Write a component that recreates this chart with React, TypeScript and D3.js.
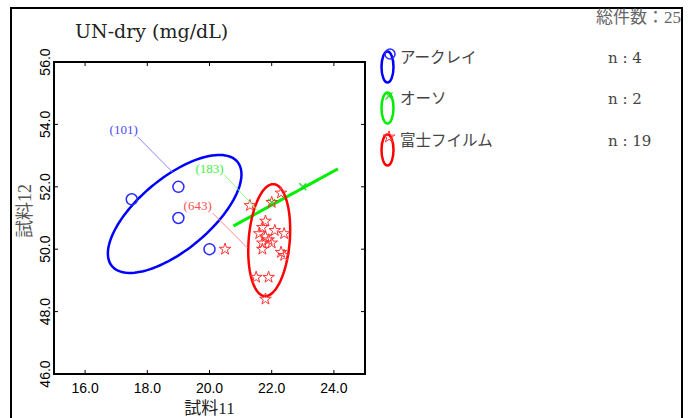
import React from 'react';
import * as d3 from 'd3';

// ---- data ----
const groupNames = ['アークレイ', 'オーソ', '富士フイルム'];
const groupCounts = [4, 2, 19];
const totalCount = 25;
const groupColors = ['#0000ff', '#00ee00', '#ff0000'];
const markerColors = ['#2a2aff', '#22dd22', '#ff3333'];

const arkrayX = [17.5, 19.0, 19.0, 20.0];
const arkrayY = [51.6, 52.0, 51.0, 50.0];
const orthoX = [22.0, 23.0];
const orthoY = [51.5, 52.0];
const fujiX = [21.3, 22.0, 22.3, 21.8, 21.7, 22.1, 22.4, 21.6, 21.8, 21.9, 21.7, 22.0, 21.7, 22.3, 22.4, 21.5, 21.9, 21.8, 20.5];
const fujiY = [51.4, 51.5, 51.8, 50.9, 50.7, 50.6, 50.5, 50.5, 50.4, 50.3, 50.2, 50.2, 50.0, 49.9, 49.8, 49.1, 49.1, 48.4, 50.0];

// ellipses (data units): center, semi-axes, angle in degrees
const ellCx = [18.88, 22.45, 21.92];
const ellCy = [51.13, 51.66, 50.29];
const ellA = [2.62, 1.913, 1.8];
const ellB = [1.15, 0.0, 0.66];
const ellAngle = [39.6, 28.6, 85.3];

// annotation labels
const labelText = ['(101)', '(183)', '(643)'];
const labelX = [17.24, 20.0, 19.62];
const labelY = [53.69, 52.44, 51.26];
const leaderX1 = [17.69, 20.48, 20.1];
const leaderY1 = [53.6, 52.38, 51.16];
const leaderX2 = [18.81, 21.57, 21.22];
const leaderY2 = [52.47, 51.22, 50.04];
const labelColors = ['#4a4aff', '#44ee44', '#ff5050'];
const leaderColors = ['#8888ff', '#88ff88', '#ff8888'];

const xTicks = [16, 18, 20, 22, 24];
const yTicks = [46, 48, 50, 52, 54, 56];
const title = 'UN-dry (mg/dL)';
const xTitle = '試料11';
const yTitle = '試料12';

// ---- layout ----
const W = 690;
const H = 418;
const PL = 54, PR = 365, PT = 62, PB = 374;

const x = d3.scaleLinear().domain([15, 25]).range([PL, PR]);
const y = d3.scaleLinear().domain([46, 56]).range([PB, PT]);

const serif = '"DejaVu Serif", "Liberation Serif", "Noto Sans CJK JP", serif';
const jp = '"Liberation Serif", "Noto Sans CJK JP", serif';
const sans = '"Liberation Sans", Arial, sans-serif';

function ellipsePath(i: number) {
  const th = (ellAngle[i] * Math.PI) / 180;
  const pts = d3.range(0, 361, 3).map((deg) => {
    const p = (deg * Math.PI) / 180;
    const dx = ellA[i] * Math.cos(p);
    const dy = ellB[i] * Math.sin(p);
    const ex = ellCx[i] + dx * Math.cos(th) - dy * Math.sin(th);
    const ey = ellCy[i] + dx * Math.sin(th) + dy * Math.cos(th);
    return [x(ex), y(ey)] as [number, number];
  });
  return d3.line()(pts) || '';
}

const starPath = d3.symbol().type(d3.symbolStar).size(42)() || '';
const crossPath = 'M-3.5,-3.5L3.5,3.5M-3.5,3.5L3.5,-3.5';

export default function App() {
  const legendY = [67, 108, 150];
  return (
    <svg width={W} height={H} style={{ position: 'absolute', left: 0, top: 0, background: '#fff' }}>
      <rect x={0} y={0} width={W} height={H} fill="#fff" />
      {/* outer frame */}
      <rect x={11} y={8} width={671} height={440} fill="none" stroke="#000" strokeWidth={2} />
      <text x={75} y={38} fontFamily={serif} fontSize={19} fill="#222">{title}</text>
      <text x={681} y={23} textAnchor="end" fontFamily={jp} fontSize={17} fill="#666">総件数：{totalCount}</text>

      {/* plot frame */}
      <rect x={PL} y={PT} width={PR - PL} height={PB - PT} fill="none" stroke="#000" strokeWidth={2} />
      {xTicks.map((t) => (
        <g key={'xt' + t}>
          <line x1={x(t)} x2={x(t)} y1={PB} y2={PB - 4} stroke="#000" />
          <line x1={x(t)} x2={x(t)} y1={PT} y2={PT + 4} stroke="#000" />
          <text x={x(t)} y={393} textAnchor="middle" fontFamily={sans} fontSize={14} fill="#000">{t.toFixed(1)}</text>
        </g>
      ))}
      {yTicks.map((t) => (
        <g key={'yt' + t}>
          <line x1={PL} x2={PL + 4} y1={y(t)} y2={y(t)} stroke="#000" />
          <line x1={PR} x2={PR - 4} y1={y(t)} y2={y(t)} stroke="#000" />
          <text transform={`translate(49.5,${y(t)}) rotate(-90)`} textAnchor="middle" fontFamily={sans} fontSize={14} fill="#000">{t.toFixed(1)}</text>
        </g>
      ))}
      <text x={(PL + PR) / 2} y={414} textAnchor="middle" fontFamily={jp} fontSize={17} fill="#222">{xTitle}</text>
      <text transform={`translate(31,211) rotate(-90)`} textAnchor="middle" fontFamily={jp} fontSize={18} fill="#555">{yTitle}</text>

      {/* ellipses */}
      {groupNames.map((g, i) => (
        <path key={'el' + i} d={ellipsePath(i)} fill="none" stroke={groupColors[i]} strokeWidth={i === 1 ? 3 : 2.5} />
      ))}

      {/* points */}
      {arkrayX.map((v, i) => (
        <circle key={'a' + i} cx={x(v)} cy={y(arkrayY[i])} r={5.5} fill="none" stroke={markerColors[0]} strokeWidth={1.5} />
      ))}
      {orthoX.map((v, i) => (
        <path key={'o' + i} d={crossPath} transform={`translate(${x(v)},${y(orthoY[i])})`} fill="none" stroke={markerColors[1]} strokeWidth={1.3} />
      ))}
      {fujiX.map((v, i) => (
        <path key={'f' + i} d={starPath} transform={`translate(${x(v)},${y(fujiY[i])})`} fill="none" stroke={markerColors[2]} strokeWidth={1} />
      ))}

      {/* annotations */}
      {labelText.map((t, i) => (
        <g key={'lb' + i}>
          <line x1={x(leaderX1[i])} y1={y(leaderY1[i])} x2={x(leaderX2[i])} y2={y(leaderY2[i])} stroke={leaderColors[i]} strokeWidth={1} />
          <text x={x(labelX[i])} y={y(labelY[i])} textAnchor="middle" fontFamily={'"Liberation Serif", serif'} fontSize={13} fill={labelColors[i]}>{t}</text>
        </g>
      ))}

      {/* legend */}
      {groupNames.map((g, i) => (
        <g key={'lg' + i}>
          <ellipse cx={387.5} cy={legendY[i]} rx={6} ry={15.5} fill="none" stroke={groupColors[i]} strokeWidth={2.5} />
          {i === 0 && <circle cx={390} cy={legendY[i] - 13} r={5} fill="none" stroke={markerColors[0]} strokeWidth={1.5} />}
          {i === 1 && <path d={crossPath} transform={`translate(389,${legendY[i] - 12})`} fill="none" stroke={markerColors[1]} strokeWidth={1.3} />}
          {i === 2 && <path d={starPath} transform={`translate(389,${legendY[i] - 13})`} fill="none" stroke={markerColors[2]} strokeWidth={1} />}
          <text x={400} y={legendY[i] - 4} fontFamily={jp} fontSize={15.5} fill="#444">{g}</text>
          <text x={608} y={legendY[i] - 4} fontFamily={serif} fontSize={15} fill="#444" style={{ whiteSpace: 'pre' }}>{`n : ${groupCounts[i]}`}</text>
        </g>
      ))}
    </svg>
  );
}
